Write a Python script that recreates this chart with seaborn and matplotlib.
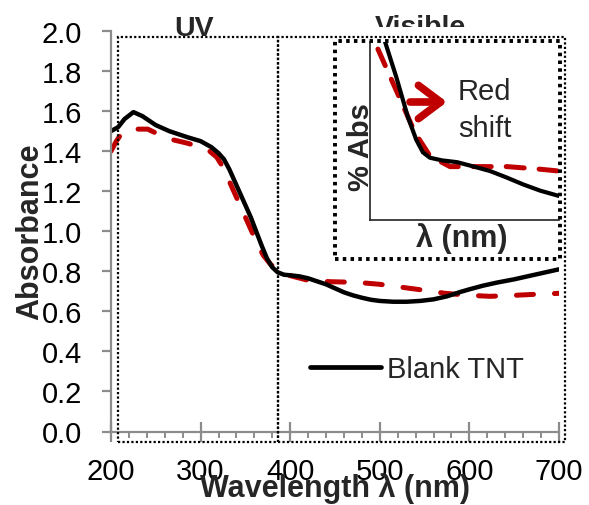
import matplotlib
matplotlib.use("Agg")
import numpy as np
import pandas as pd
import seaborn as sns
import matplotlib.pyplot as plt
from matplotlib.patches import Rectangle
from matplotlib.lines import Line2D
from matplotlib.ticker import MultipleLocator, FormatStrFormatter

# ---------------- data ----------------
wl_blank = [200, 208, 215, 225, 235, 250, 265, 285, 300, 312, 320, 326, 332, 338, 344,
            350, 356, 362, 368, 374, 380, 386, 393, 400, 410, 420, 430, 440, 450, 460,
            470, 480, 490, 500, 515, 530, 545, 560, 575, 590, 600, 615, 630, 650, 675, 700]
abs_blank = [1.50, 1.52, 1.56, 1.595, 1.575, 1.53, 1.50, 1.47, 1.45, 1.42, 1.39, 1.36,
             1.31, 1.25, 1.19, 1.13, 1.07, 1.00, 0.93, 0.865, 0.82, 0.795, 0.783, 0.78,
             0.775, 0.765, 0.75, 0.735, 0.715, 0.695, 0.68, 0.668, 0.658, 0.652, 0.648,
             0.648, 0.652, 0.66, 0.675, 0.697, 0.71, 0.728, 0.743, 0.76, 0.785, 0.81]

wl_sample = [200, 206, 212, 225, 241, 255, 266, 285, 300, 310, 318, 325, 332, 339,
             346, 352, 358, 364, 370, 378, 386, 394, 400, 420, 445, 474, 500, 525,
             550, 573, 600, 623, 650, 673, 700]
abs_sample = [1.40, 1.45, 1.49, 1.51, 1.51, 1.48, 1.46, 1.44, 1.42, 1.40, 1.37, 1.32,
              1.25, 1.18, 1.11, 1.05, 0.99, 0.93, 0.88, 0.835, 0.805, 0.785, 0.778,
              0.755, 0.748, 0.745, 0.735, 0.72, 0.705, 0.69, 0.68, 0.675, 0.68, 0.685,
              0.69]

inset_x_blank = [0.08, 0.14, 0.20, 0.245, 0.28, 0.317, 0.38, 0.46, 0.55, 0.635, 0.72,
                 0.81, 0.90, 1.0]
inset_y_blank = [1.0, 0.80, 0.58, 0.45, 0.38, 0.35, 0.335, 0.325, 0.30, 0.275, 0.24,
                 0.20, 0.165, 0.135]
inset_x_sample = [0.042, 0.159, 0.238, 0.317, 0.423, 0.545, 0.725, 0.884, 1.0]
inset_y_sample = [0.96, 0.68, 0.49, 0.36, 0.30, 0.30, 0.30, 0.287, 0.275]

x_ticks = [200, 300, 400, 500, 600, 700]
y_ticks = [0.0, 0.2, 0.4, 0.6, 0.8, 1.0, 1.2, 1.4, 1.6, 1.8, 2.0]

legend_label = "Blank TNT"
x_label = "Wavelength λ (nm)"
y_label = "Absorbance"
inset_xlabel = "λ (nm)"
inset_ylabel = "% Abs"

# ---------------- style ----------------
sns.set_style("white")
plt.rcParams["font.family"] = ["Liberation Sans", "DejaVu Sans"]
FS = 21
FSB = 22
RED = "#C00000"
GREY = "#8c8c8c"

W, H = 589, 506
fig = plt.figure(figsize=(W / 100, H / 100), dpi=100)


def fx(px):
    return px / W


def fy(py):
    return 1 - py / H


ax_x0, ax_x1, ax_y0, ax_y1 = 111, 559, 432.5, 32
ax = fig.add_axes([fx(ax_x0), fy(ax_y0), (ax_x1 - ax_x0) / W, (ax_y0 - ax_y1) / H])
ax.set_facecolor("none")

df_blank = pd.DataFrame({"wl": wl_blank, "abs": abs_blank})
df_sample = pd.DataFrame({"wl": wl_sample, "abs": abs_sample})

sns.lineplot(data=df_sample, x="wl", y="abs", ax=ax, color=RED, lw=3.6,
             estimator=None, sort=False)
red_line = ax.lines[-1]
red_line.set_dashes((3.4, 4.2))
red_line.set_dash_capstyle("round")
sns.lineplot(data=df_blank, x="wl", y="abs", ax=ax, color="black", lw=3.2,
             estimator=None, sort=False)
ax.lines[-1].set_solid_capstyle("round")
ax.lines[-1].set_solid_joinstyle("round")

ax.set_xlim(200, 700)
ax.set_ylim(0, 2.0)
ax.set_xticks(x_ticks)
ax.set_yticks(y_ticks)
ax.xaxis.set_minor_locator(MultipleLocator(20))
ax.yaxis.set_major_formatter(FormatStrFormatter("%.1f"))

for s in ["top", "right"]:
    ax.spines[s].set_visible(False)
for s in ["left", "bottom"]:
    ax.spines[s].set_color(GREY)
    ax.spines[s].set_linewidth(1.6)

ax.tick_params(axis="x", which="major", direction="inout", length=13.7, width=1.6,
               color=GREY, pad=11.2, labelsize=FS, labelcolor="black")
ax.tick_params(axis="x", which="minor", direction="out", length=4.3, width=1.4,
               color=GREY)
ax.tick_params(axis="y", which="major", direction="out", length=6.5, width=1.6,
               color=GREY, pad=14.2, labelsize=FS, labelcolor="black")
ax.tick_params(left=True, bottom=True)
ax.tick_params(axis="x", which="minor", bottom=True)

ax.set_xlabel(x_label, fontsize=FSB, fontweight="bold")
ax.xaxis.label.set_va("baseline")
ax.xaxis.set_label_coords(0.5, (ax_y0 - 497) / (ax_y0 - ax_y1))
ax.set_ylabel(y_label, fontsize=FSB, fontweight="bold")
ax.yaxis.label.set_va("center")
ax.yaxis.set_label_coords((30 - ax_x0) / (ax_x1 - ax_x0), 0.5)

# legend (only the blank shown)
handle = Line2D([], [], color="black", lw=3.4, solid_capstyle="round")
ax.legend(handles=[handle], labels=[legend_label], loc="center left",
          bbox_to_anchor=(fx(310), fy(370)), bbox_transform=fig.transFigure,
          frameon=False, borderpad=0, borderaxespad=0, handlelength=2.45,
          handletextpad=0.2, fontsize=FS)

# ---------------- region labels & dotted boxes ----------------
fig.text(fx(194), fy(36), "UV", ha="center", va="baseline", fontsize=FSB - 1.5,
         fontweight="bold", zorder=3)
fig.text(fx(420), fy(35), "Visible", ha="center", va="baseline", fontsize=FSB - 1.5,
         fontweight="bold", zorder=3)
fig.add_artist(Rectangle((fx(360), fy(37.5)), fx(480) - fx(360), fy(28) - fy(37.5),
                         transform=fig.transFigure, facecolor="white",
                         edgecolor="none", zorder=4))

thin = dict(transform=fig.transFigure, fill=False, edgecolor="black", lw=1.6,
            linestyle=(0, (1, 1)), zorder=6)
fig.add_artist(Rectangle((fx(118), fy(443)), fx(278) - fx(118), fy(38) - fy(443), **thin))
fig.add_artist(Rectangle((fx(278), fy(443)), fx(565) - fx(278), fy(38) - fy(443), **thin))
fig.add_artist(Rectangle((fx(335), fy(260)), fx(560) - fx(335), fy(42) - fy(260),
                         transform=fig.transFigure, fill=False, edgecolor="black",
                         lw=2.8, linestyle=(0, (0.9, 1.1)), zorder=6))

# ---------------- inset ----------------
in_x0, in_x1, in_y0, in_y1 = 370, 559, 221, 43
ax_in = fig.add_axes([fx(in_x0), fy(in_y0), (in_x1 - in_x0) / W, (in_y0 - in_y1) / H])
ax_in.set_facecolor("none")
df_in_b = pd.DataFrame({"x": inset_x_blank, "y": inset_y_blank})
df_in_s = pd.DataFrame({"x": inset_x_sample, "y": inset_y_sample})
sns.lineplot(data=df_in_s, x="x", y="y", ax=ax_in, color=RED, lw=3.6,
             estimator=None, sort=False)
ax_in.lines[-1].set_dashes((3.6, 3.0))
ax_in.lines[-1].set_dash_capstyle("round")
sns.lineplot(data=df_in_b, x="x", y="y", ax=ax_in, color="black", lw=3.0,
             estimator=None, sort=False)
ax_in.lines[-1].set_solid_joinstyle("round")
ax_in.set_xlim(0, 1)
ax_in.set_ylim(0, 1)
ax_in.set_xticks([])
ax_in.set_yticks([])
for s in ["top", "right"]:
    ax_in.spines[s].set_visible(False)
for s in ["left", "bottom"]:
    ax_in.spines[s].set_color("#222222")
    ax_in.spines[s].set_linewidth(1.2)
ax_in.set_xlabel(inset_xlabel, fontsize=FSB, fontweight="bold")
ax_in.xaxis.label.set_va("baseline")
ax_in.xaxis.set_label_coords(0.487, (in_y0 - 247) / (in_y0 - in_y1))
ax_in.set_ylabel(inset_ylabel, fontsize=FSB - 1, fontweight="bold")
ax_in.yaxis.label.set_va("center")
ax_in.yaxis.set_label_coords((361 - in_x0) / (in_x1 - in_x0), 0.416)

fig.text(fx(458), fy(100), "Red", ha="left", va="baseline", fontsize=FS)
fig.text(fx(458), fy(137), "shift", ha="left", va="baseline", fontsize=FS)
ax_in.annotate("", xy=(447, H - 103), xytext=(410, H - 103), xycoords="figure pixels",
               textcoords="figure pixels",
               arrowprops=dict(arrowstyle="->,head_length=0.8,head_width=0.6",
                               color=RED, lw=5.5, mutation_scale=20,
                               shrinkA=0, shrinkB=0))

fig.savefig("out.png", dpi=100)
